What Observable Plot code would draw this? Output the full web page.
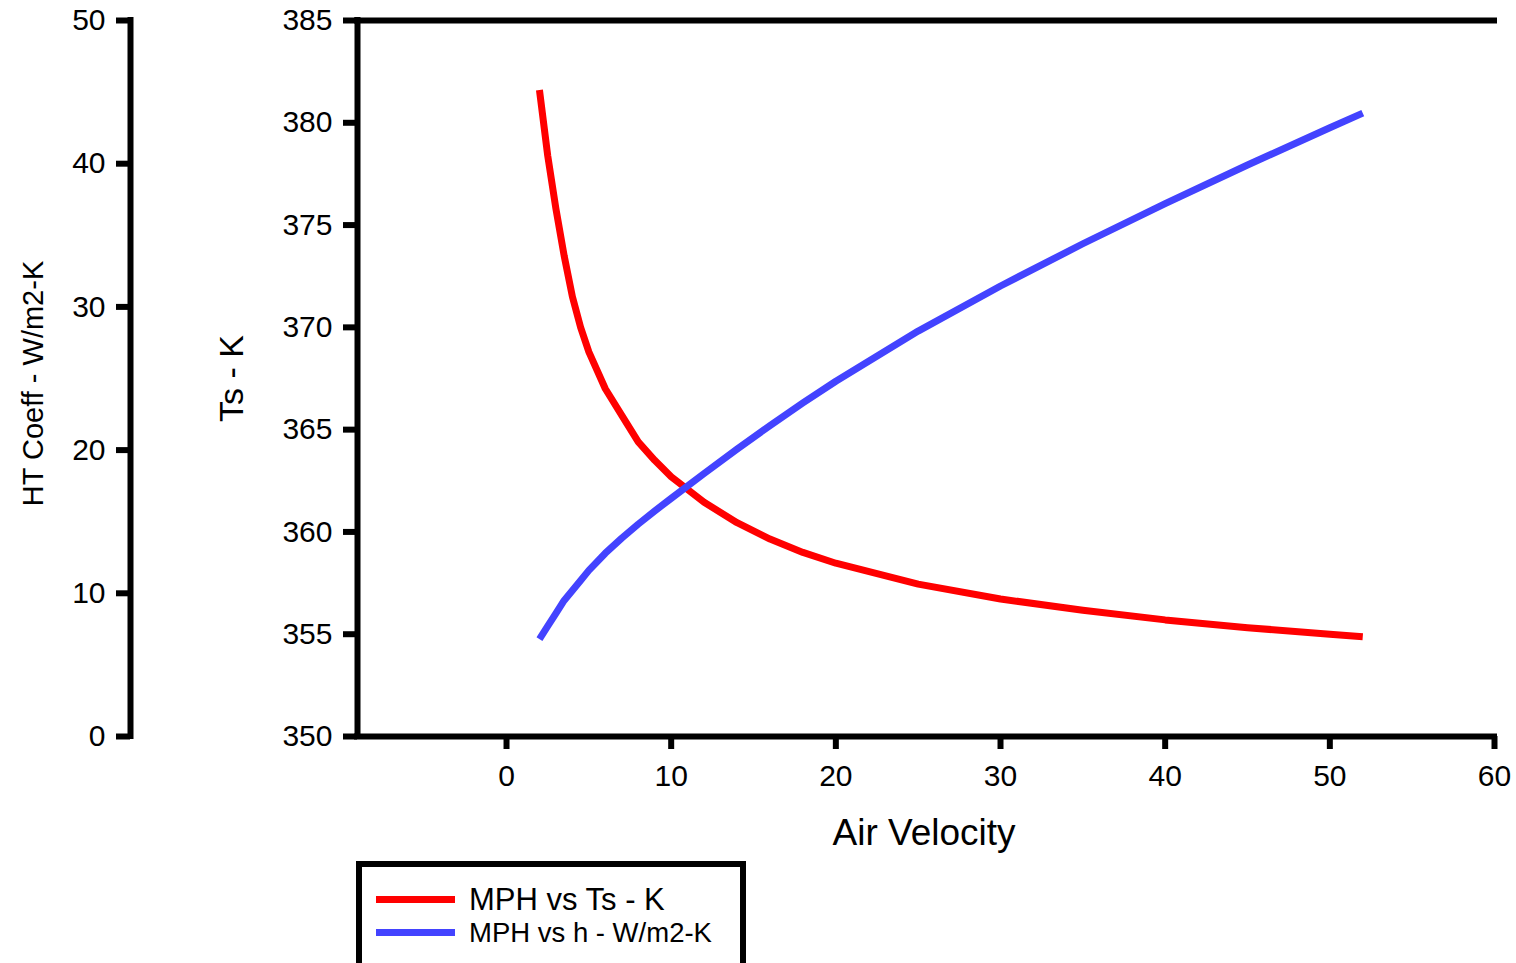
<!DOCTYPE html>
<html>
<head>
<meta charset="utf-8">
<script src="https://cdn.jsdelivr.net/npm/d3@7"></script>
<script src="https://cdn.jsdelivr.net/npm/@observablehq/plot@0.6"></script>
<style>
  html, body { margin: 0; padding: 0; background: #fff; overflow: hidden; }
  #wrap { position: relative; width: 1516px; height: 963px; font-family: "Liberation Sans", Arial, sans-serif; color: #000; }
  #chart svg { display: block; }
  #legend { position: absolute; left: 356px; top: 861px; width: 390px; height: 120px; border: 6px solid #000; box-sizing: border-box; background: #fff; }
  .sw { position: absolute; left: 376px; width: 79px; height: 7px; }
  .lt { position: absolute; left: 469px; white-space: nowrap; line-height: 1; }
</style>
</head>
<body>
<div id="wrap">
  <div id="chart"></div>
  <div id="legend"></div>
  <div class="sw" id="sw1"></div><div class="lt" id="lt1"></div>
  <div class="sw" id="sw2"></div><div class="lt" id="lt2"></div>
</div>
<script>
// ---- data ----
const velocity = [2, 2.5, 3, 3.5, 4, 4.5, 5, 6, 7, 8, 9, 10, 12, 14, 16, 18, 20, 25, 30, 35, 40, 45, 50, 52];
const surfaceTempK = [381.6, 378.4, 375.8, 373.5, 371.5, 370.0, 368.8, 367.0, 365.7, 364.4, 363.5, 362.7, 361.45, 360.45, 359.65, 359.0, 358.47, 357.45, 356.72, 356.17, 355.7, 355.32, 355.0, 354.88];
const htCoeff = [6.8, 7.7, 8.6, 9.5, 10.2, 10.9, 11.6, 12.8, 13.85, 14.83, 15.75, 16.63, 18.37, 20.07, 21.71, 23.29, 24.81, 28.31, 31.46, 34.41, 37.21, 39.91, 42.51, 43.53];

const xTicks = [0, 10, 20, 30, 40, 50, 60];
const tsTicks = [350, 355, 360, 365, 370, 375, 380, 385];
const htTicks = [0, 10, 20, 30, 40, 50];

const seriesNames = ["MPH vs Ts - K", "MPH vs h - W/m2-K"];
const seriesColors = ["#ff0000", "#4343ff"];
const xLabel = "Air Velocity";
const tsLabel = "Ts - K";
const htLabel = "HT Coeff - W/m2-K";

// ---- scales ----
const tsDomain = [350, 385];
const htDomain = [0, 50];
const htToTs = h => tsDomain[0] + (h - htDomain[0]) * (tsDomain[1] - tsDomain[0]) / (htDomain[1] - htDomain[0]);
const tsToHt = t => htDomain[0] + (t - tsDomain[0]) * (htDomain[1] - htDomain[0]) / (tsDomain[1] - tsDomain[0]);
const xMin = -9.05, xMax = 60;

const rows = velocity.map((v, i) => ({v, ts: surfaceTempK[i], h: htCoeff[i]}));

const LW = 6;
const TICK_FS = 30;
const plot = Plot.plot({
  width: 1516,
  height: 860,
  marginTop: 20,
  marginBottom: 124,
  marginLeft: 357,
  marginRight: 22,
  style: {fontFamily: "Liberation Sans, Arial, sans-serif", fontSize: TICK_FS + "px", color: "#000", background: "#fff", overflow: "visible"},
  x: {domain: [xMin, xMax]},
  y: {domain: tsDomain},
  marks: [
    // HT coefficient axis (left, offset)
    Plot.axisY(htTicks.map(htToTs), {anchor: "left", tickSize: 14, tickPadding: 11, strokeWidth: LW, fontSize: TICK_FS,
      tickFormat: d => String(Math.round(tsToHt(d))), dx: -227, label: null}),
    Plot.ruleX([xMin], {dx: -227, stroke: "#000", strokeWidth: LW, strokeLinecap: "square"}),
    // Ts axis
    Plot.axisY(tsTicks, {anchor: "left", tickSize: 14, tickPadding: 11, strokeWidth: LW, fontSize: TICK_FS, label: null}),
    Plot.ruleX([xMin], {stroke: "#000", strokeWidth: LW, strokeLinecap: "square"}),
    // x axis
    Plot.axisX(xTicks, {anchor: "bottom", tickSize: 13, tickPadding: 15, strokeWidth: LW, fontSize: TICK_FS, label: null}),
    Plot.ruleY([tsDomain[0]], {stroke: "#000", strokeWidth: LW, strokeLinecap: "square"}),
    Plot.ruleY([tsDomain[1]], {stroke: "#000", strokeWidth: LW, strokeLinecap: "square"}),
    // titles
    Plot.text([xLabel], {frameAnchor: "bottom", textAnchor: "middle", lineAnchor: "middle", dx: -2, dy: 97, fontSize: 37, fill: "#000"}),
    Plot.text([tsLabel], {frameAnchor: "left", textAnchor: "middle", lineAnchor: "middle", rotate: -90, dx: -125, fontSize: 34, fill: "#000"}),
    Plot.text([htLabel], {frameAnchor: "left", textAnchor: "middle", lineAnchor: "middle", rotate: -90, dx: -324, dy: 5, fontSize: 29, fill: "#000"}),
    // data
    Plot.line(rows, {x: "v", y: "ts", stroke: seriesColors[0], strokeWidth: 7, strokeLinecap: "butt"}),
    Plot.line(rows, {x: "v", y: d => htToTs(d.h), stroke: seriesColors[1], strokeWidth: 7, strokeLinecap: "butt"})
  ]
});
document.getElementById("chart").appendChild(plot);

// legend
const sw1 = document.getElementById("sw1"), sw2 = document.getElementById("sw2");
const lt1 = document.getElementById("lt1"), lt2 = document.getElementById("lt2");
sw1.style.background = seriesColors[0]; sw1.style.top = "896px";
sw2.style.background = seriesColors[1]; sw2.style.top = "929px";
lt1.textContent = seriesNames[0]; lt1.style.fontSize = "31px"; lt1.style.top = "884px";
lt2.textContent = seriesNames[1]; lt2.style.fontSize = "27.5px"; lt2.style.top = "919px";
</script>
</body>
</html>
